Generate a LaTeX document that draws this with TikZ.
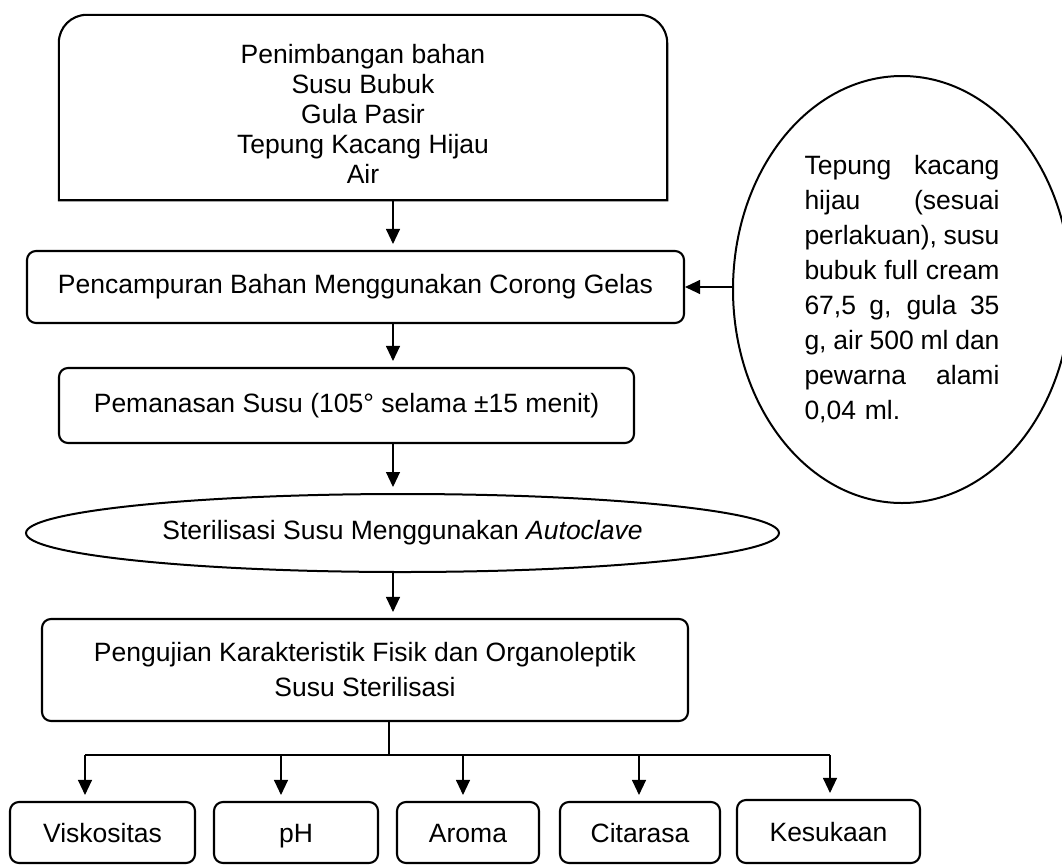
\documentclass[tikz,border=0pt]{standalone}
\usepackage{fontspec}
\setmainfont{Liberation Sans}
\usetikzlibrary{arrows.meta,shapes.geometric}

\newcommand{\barispenuh}[1]{\makebox[195pt][s]{\spaceskip=0pt\relax #1}}

\begin{document}
\begin{tikzpicture}[x=1pt,y=-1pt,
  font=\fontsize{26.5}{30}\selectfont,
  prosesbox/.style={draw,line width=2.1pt,rounded corners=9pt,align=center,inner sep=0pt},
  lonjong/.style={draw,ellipse,line width=2pt,inner sep=0pt},
  flow/.style={-{Triangle[length=15pt,width=14pt]},line width=1.1pt,shorten >=6pt}]
  \useasboundingbox (0,0) rectangle (1062,865);

  % kotak bahan, hanya sudut atas yang bulat
  \node[align=center,minimum width=608,minimum height=185,text height=151pt,text depth=0pt] (bahan) at (363,107.5)
    {Penimbangan bahan\\Susu Bubuk\\Gula Pasir\\Tepung Kacang Hijau\\Air};
  \draw[line width=2.1pt] (bahan.south west) -- ([yshift=-28pt]bahan.north west)
    to[out=90,in=180] ([xshift=28pt]bahan.north west) -- ([xshift=-28pt]bahan.north east)
    to[out=0,in=90] ([yshift=-28pt]bahan.north east) -- (bahan.south east) -- cycle;

  \node[prosesbox,minimum width=657,minimum height=72] (campur) at (355.5,287)
    {Pencampuran Bahan Menggunakan Corong Gelas};
  \node[prosesbox,minimum width=575,minimum height=75] (panas) at (346.5,405.5)
    {Pemanasan Susu (105° selama ±15 menit)};
  \node[lonjong,minimum width=753,minimum height=78] (steril) at (402.5,533)
    {Sterilisasi Susu Menggunakan \textit{Autoclave}};
  \node[prosesbox,minimum width=646,minimum height=102,font=\fontsize{26.5}{35}\selectfont] (uji) at (365,670)
    {Pengujian Karakteristik Fisik dan Organoleptik\\Susu Sterilisasi};

  % komposisi
  \node[lonjong,minimum width=338,minimum height=427,text width=195pt,align=left,
    font=\fontsize{26.5}{35}\selectfont] (tepung) at (902,289.5)
    {\barispenuh{Tepung kacang}\\
     \barispenuh{hijau (sesuai}\\
     \barispenuh{perlakuan), susu}\\
     \barispenuh{bubuk full cream}\\
     \barispenuh{67,5 g, gula 35}\\
     \barispenuh{g, air 500 ml dan}\\
     \barispenuh{pewarna alami}\\
     0,04 ml.};

  % parameter uji
  \foreach \nama/\x/\y/\w/\h/\teks in {visko/102.5/832.5/185/61/Viskositas,ph/296/832.5/164/61/pH,
      aroma/468/832.5/142/61/Aroma,cita/640/832.5/160/61/Citarasa,suka/828.5/831.5/183/63/Kesukaan} {
    \node[prosesbox,minimum width=\w,minimum height=\h,text height=19pt,text depth=0pt] (\nama) at (\x,\y) {\teks};
  }

  \coordinate (kol) at (393,0);
  \draw[flow] (bahan.south -| kol) -- (campur.north -| kol);
  \draw[flow] (campur.south -| kol) -- (panas.north -| kol);
  \draw[flow] (panas.south -| kol) -- (steril.north -| kol);
  \draw[flow] (steril.south -| kol) -- (uji.north -| kol);
  \draw[flow,shorten >=0pt] (campur.east -| tepung.west) -- (campur.east);

  \coordinate (cabang) at (389,755);
  \draw[line width=1.1pt] (uji.south -| cabang) -- (cabang);
  \foreach \nama/\x in {visko/85,ph/281,aroma/463,cita/639,suka/830} {
    \coordinate (t\nama) at (\x,755);
    \draw[flow] (t\nama) -- (\nama.north -| t\nama);
  }
  \draw[line width=1.1pt] (tvisko) -- (tsuka);
\end{tikzpicture}
\end{document}
